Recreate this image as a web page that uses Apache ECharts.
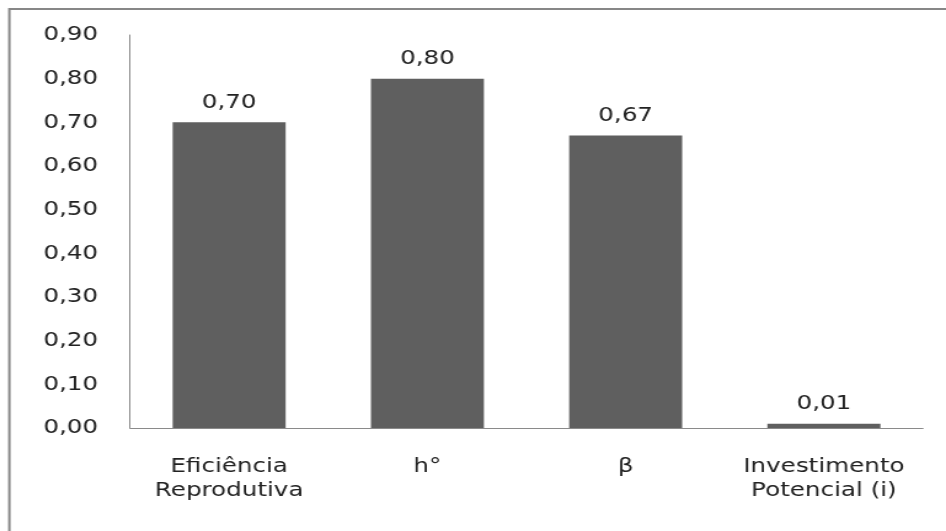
<!DOCTYPE html>
<html>
<head>
<meta charset="utf-8">
<script src="https://cdn.jsdelivr.net/npm/echarts@6/dist/echarts.min.js"></script>
<style>
html,body{margin:0;padding:0;background:#fff;overflow:hidden;}
#wrap{width:946px;height:531px;overflow:hidden;position:relative;}
#chart{position:absolute;left:0;top:0;width:769px;height:531px;transform:scaleX(1.2302);transform-origin:0 0;}
</style>
</head>
<body>
<div id="wrap"><div id="chart"></div></div>
<script>
const categories = ['Eficiência\nReprodutiva', 'h°', 'β', 'Investimento\nPotencial (i)'];
const values = [0.70, 0.80, 0.67, 0.01];
const yTicks = {min: 0, max: 0.9, interval: 0.1};

const chart = echarts.init(document.getElementById('chart'), null, {renderer: 'canvas'});
const font = 'DejaVu Sans';
const fmt = v => v.toFixed(2).replace('.', ',');
chart.setOption({
  animation: false,
  backgroundColor: '#ffffff',
  grid: {left: 105.7, right: 18.7, top: 35, bottom: 103, containLabel: false},
  graphic: [{
    type: 'rect', silent: true,
    shape: {x: 7.6, y: 9, width: 900, height: 600},
    style: {fill: 'none', stroke: '#878787', lineWidth: 2}
  }],
  xAxis: {
    type: 'category',
    data: categories,
    axisLine: {lineStyle: {color: '#8a8a8a', width: 1}},
    axisTick: {show: false},
    axisLabel: {color: '#222222', fontFamily: font, fontSize: 20, lineHeight: 24, margin: 27, interval: 0}
  },
  yAxis: {
    type: 'value',
    min: yTicks.min, max: yTicks.max, interval: yTicks.interval,
    axisLine: {show: true, lineStyle: {color: '#8a8a8a', width: 1}},
    axisTick: {show: false},
    splitLine: {show: false},
    axisLabel: {color: '#222222', fontFamily: font, fontSize: 20, margin: 26, formatter: v => fmt(v)}
  },
  series: [{
    type: 'bar',
    data: values,
    barWidth: '57%',
    itemStyle: {color: '#5f5f5f'},
    label: {show: true, position: 'top', distance: 10, color: '#222222', fontFamily: font, fontSize: 20, formatter: p => fmt(p.value)}
  }]
});
</script>
</body>
</html>
